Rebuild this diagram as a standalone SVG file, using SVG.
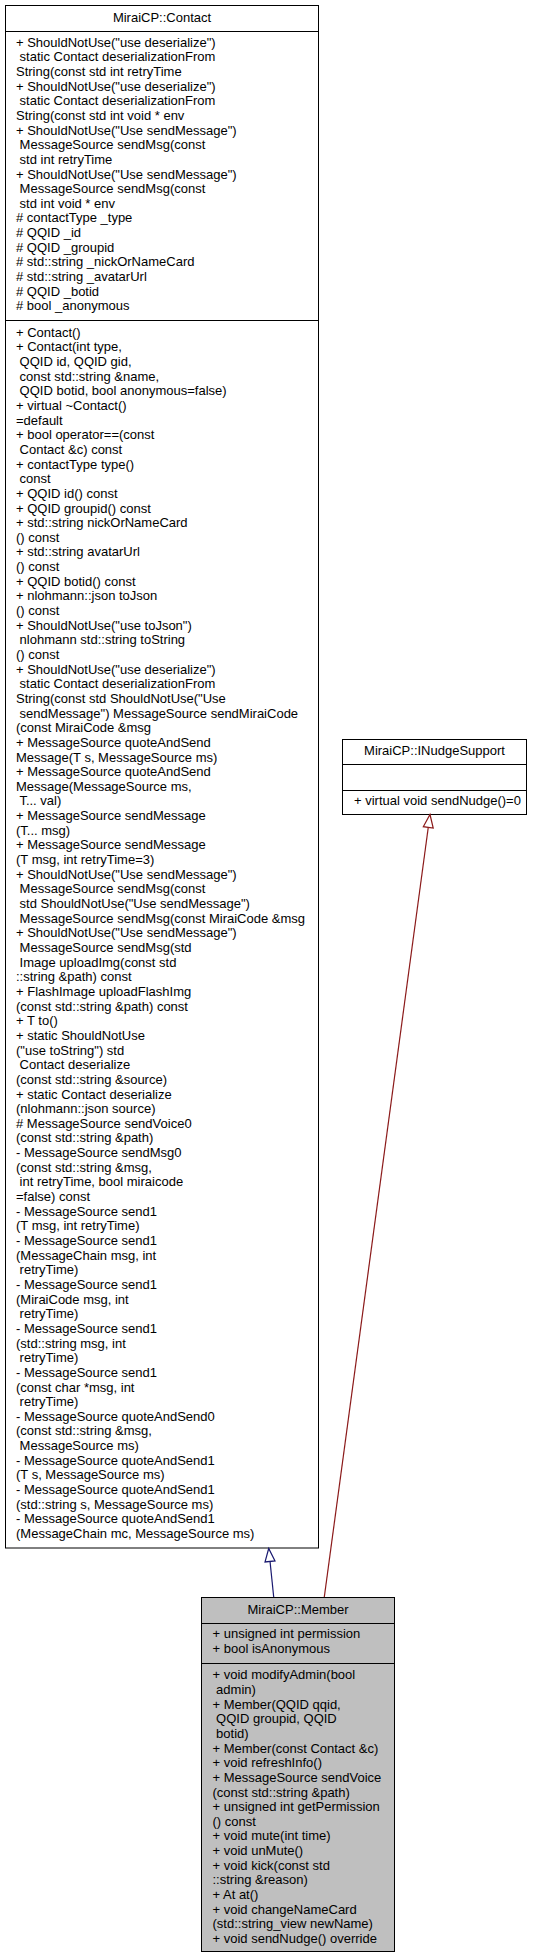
<svg xmlns="http://www.w3.org/2000/svg" width="533" height="1959" viewBox="0 0 533 1959" xml:space="preserve">
<style>
.t{font-family:"Liberation Sans",Arial,Helvetica,sans-serif;font-size:13px;fill:#000;white-space:pre}
.c{text-anchor:middle}
.box{stroke:#000;stroke-width:1}
.sep{stroke:#000;stroke-width:1}
.pub{fill:none;stroke:#191970;stroke-width:1.2}
.priv{fill:none;stroke:#8b1a1a;stroke-width:1.2}
</style>
<defs>
<marker id="triBlue" markerUnits="userSpaceOnUse" viewBox="0 0 14 11" refX="13.5" refY="5.5" markerWidth="14" markerHeight="11" orient="auto" overflow="visible">
<path d="M0.5,0.5 L13.5,5.5 L0.5,10.5 Z" fill="#fff" stroke="#191970" stroke-width="1.2"/>
</marker>
<marker id="triRed" markerUnits="userSpaceOnUse" viewBox="0 0 14 11" refX="13.5" refY="5.5" markerWidth="14" markerHeight="11" orient="auto" overflow="visible">
<path d="M0.5,0.5 L13.5,5.5 L0.5,10.5 Z" fill="#fff" stroke="#8b1a1a" stroke-width="1.2"/>
</marker>
</defs>
<rect x="0" y="0" width="533" height="1959" fill="#fff"/>

<g id="node-contact">
<rect class="box" x="5.5" y="5.5" width="313" height="1542.5" fill="#fff"/>
<line class="sep" x1="5.5" y1="31.5" x2="318.5" y2="31.5"/>
<line class="sep" x1="5.5" y1="320.5" x2="318.5" y2="320.5"/>
<text class="t c" x="162" y="22">MiraiCP::Contact</text>
<text class="t" x="16" y="46.7"><tspan x="16" y="46.7">+ ShouldNotUse("use deserialize")</tspan><tspan x="16" dy="14.65"> static Contact deserializationFrom</tspan><tspan x="16" dy="14.65">String(const std int retryTime</tspan><tspan x="16" dy="14.65">+ ShouldNotUse("use deserialize")</tspan><tspan x="16" dy="14.65"> static Contact deserializationFrom</tspan><tspan x="16" dy="14.65">String(const std int void * env</tspan><tspan x="16" dy="14.65">+ ShouldNotUse("Use sendMessage")</tspan><tspan x="16" dy="14.65"> MessageSource sendMsg(const</tspan><tspan x="16" dy="14.65"> std int retryTime</tspan><tspan x="16" dy="14.65">+ ShouldNotUse("Use sendMessage")</tspan><tspan x="16" dy="14.65"> MessageSource sendMsg(const</tspan><tspan x="16" dy="14.65"> std int void * env</tspan><tspan x="16" dy="14.65"># contactType _type</tspan><tspan x="16" dy="14.65"># QQID _id</tspan><tspan x="16" dy="14.65"># QQID _groupid</tspan><tspan x="16" dy="14.65"># std::string _nickOrNameCard</tspan><tspan x="16" dy="14.65"># std::string _avatarUrl</tspan><tspan x="16" dy="14.65"># QQID _botid</tspan><tspan x="16" dy="14.65"># bool _anonymous</tspan></text>
<text class="t" x="16" y="336.7"><tspan x="16" y="336.7">+ Contact()</tspan><tspan x="16" dy="14.65">+ Contact(int type,</tspan><tspan x="16" dy="14.65"> QQID id, QQID gid,</tspan><tspan x="16" dy="14.65"> const std::string &amp;name,</tspan><tspan x="16" dy="14.65"> QQID botid, bool anonymous=false)</tspan><tspan x="16" dy="14.65">+ virtual ~Contact()</tspan><tspan x="16" dy="14.65">=default</tspan><tspan x="16" dy="14.65">+ bool operator==(const</tspan><tspan x="16" dy="14.65"> Contact &amp;c) const</tspan><tspan x="16" dy="14.65">+ contactType type()</tspan><tspan x="16" dy="14.65"> const</tspan><tspan x="16" dy="14.65">+ QQID id() const</tspan><tspan x="16" dy="14.65">+ QQID groupid() const</tspan><tspan x="16" dy="14.65">+ std::string nickOrNameCard</tspan><tspan x="16" dy="14.65">() const</tspan><tspan x="16" dy="14.65">+ std::string avatarUrl</tspan><tspan x="16" dy="14.65">() const</tspan><tspan x="16" dy="14.65">+ QQID botid() const</tspan><tspan x="16" dy="14.65">+ nlohmann::json toJson</tspan><tspan x="16" dy="14.65">() const</tspan><tspan x="16" dy="14.65">+ ShouldNotUse("use toJson")</tspan><tspan x="16" dy="14.65"> nlohmann std::string toString</tspan><tspan x="16" dy="14.65">() const</tspan><tspan x="16" dy="14.65">+ ShouldNotUse("use deserialize")</tspan><tspan x="16" dy="14.65"> static Contact deserializationFrom</tspan><tspan x="16" dy="14.65">String(const std ShouldNotUse("Use</tspan><tspan x="16" dy="14.65"> sendMessage") MessageSource sendMiraiCode</tspan><tspan x="16" dy="14.65">(const MiraiCode &amp;msg</tspan><tspan x="16" dy="14.65">+ MessageSource quoteAndSend</tspan><tspan x="16" dy="14.65">Message(T s, MessageSource ms)</tspan><tspan x="16" dy="14.65">+ MessageSource quoteAndSend</tspan><tspan x="16" dy="14.65">Message(MessageSource ms,</tspan><tspan x="16" dy="14.65"> T... val)</tspan><tspan x="16" dy="14.65">+ MessageSource sendMessage</tspan><tspan x="16" dy="14.65">(T... msg)</tspan><tspan x="16" dy="14.65">+ MessageSource sendMessage</tspan><tspan x="16" dy="14.65">(T msg, int retryTime=3)</tspan><tspan x="16" dy="14.65">+ ShouldNotUse("Use sendMessage")</tspan><tspan x="16" dy="14.65"> MessageSource sendMsg(const</tspan><tspan x="16" dy="14.65"> std ShouldNotUse("Use sendMessage")</tspan><tspan x="16" dy="14.65"> MessageSource sendMsg(const MiraiCode &amp;msg</tspan><tspan x="16" dy="14.65">+ ShouldNotUse("Use sendMessage")</tspan><tspan x="16" dy="14.65"> MessageSource sendMsg(std</tspan><tspan x="16" dy="14.65"> Image uploadImg(const std</tspan><tspan x="16" dy="14.65">::string &amp;path) const</tspan><tspan x="16" dy="14.65">+ FlashImage uploadFlashImg</tspan><tspan x="16" dy="14.65">(const std::string &amp;path) const</tspan><tspan x="16" dy="14.65">+ T to()</tspan><tspan x="16" dy="14.65">+ static ShouldNotUse</tspan><tspan x="16" dy="14.65">("use toString") std</tspan><tspan x="16" dy="14.65"> Contact deserialize</tspan><tspan x="16" dy="14.65">(const std::string &amp;source)</tspan><tspan x="16" dy="14.65">+ static Contact deserialize</tspan><tspan x="16" dy="14.65">(nlohmann::json source)</tspan><tspan x="16" dy="14.65"># MessageSource sendVoice0</tspan><tspan x="16" dy="14.65">(const std::string &amp;path)</tspan><tspan x="16" dy="14.65">- MessageSource sendMsg0</tspan><tspan x="16" dy="14.65">(const std::string &amp;msg,</tspan><tspan x="16" dy="14.65"> int retryTime, bool miraicode</tspan><tspan x="16" dy="14.65">=false) const</tspan><tspan x="16" dy="14.65">- MessageSource send1</tspan><tspan x="16" dy="14.65">(T msg, int retryTime)</tspan><tspan x="16" dy="14.65">- MessageSource send1</tspan><tspan x="16" dy="14.65">(MessageChain msg, int</tspan><tspan x="16" dy="14.65"> retryTime)</tspan><tspan x="16" dy="14.65">- MessageSource send1</tspan><tspan x="16" dy="14.65">(MiraiCode msg, int</tspan><tspan x="16" dy="14.65"> retryTime)</tspan><tspan x="16" dy="14.65">- MessageSource send1</tspan><tspan x="16" dy="14.65">(std::string msg, int</tspan><tspan x="16" dy="14.65"> retryTime)</tspan><tspan x="16" dy="14.65">- MessageSource send1</tspan><tspan x="16" dy="14.65">(const char *msg, int</tspan><tspan x="16" dy="14.65"> retryTime)</tspan><tspan x="16" dy="14.65">- MessageSource quoteAndSend0</tspan><tspan x="16" dy="14.65">(const std::string &amp;msg,</tspan><tspan x="16" dy="14.65"> MessageSource ms)</tspan><tspan x="16" dy="14.65">- MessageSource quoteAndSend1</tspan><tspan x="16" dy="14.65">(T s, MessageSource ms)</tspan><tspan x="16" dy="14.65">- MessageSource quoteAndSend1</tspan><tspan x="16" dy="14.65">(std::string s, MessageSource ms)</tspan><tspan x="16" dy="14.65">- MessageSource quoteAndSend1</tspan><tspan x="16" dy="14.65">(MessageChain mc, MessageSource ms)</tspan></text>
</g>

<g id="node-inudgesupport">
<rect class="box" x="342.5" y="739.5" width="184" height="75" fill="#fff"/>
<line class="sep" x1="342.5" y1="764.5" x2="526.5" y2="764.5"/>
<line class="sep" x1="342.5" y1="790.5" x2="526.5" y2="790.5"/>
<text class="t c" x="434.5" y="755">MiraiCP::INudgeSupport</text>
<text class="t" x="354" y="805">+ virtual void sendNudge()=0</text>
</g>

<g id="node-member">
<rect class="box" x="201.5" y="1597.5" width="193" height="354" fill="#bfbfbf"/>
<line class="sep" x1="201.5" y1="1623.5" x2="394.5" y2="1623.5"/>
<line class="sep" x1="201.5" y1="1663.5" x2="394.5" y2="1663.5"/>
<text class="t c" x="298" y="1614">MiraiCP::Member</text>
<text class="t" x="212.5" y="1638.3"><tspan x="212.5" y="1638.3">+ unsigned int permission</tspan><tspan x="212.5" dy="14.65">+ bool isAnonymous</tspan></text>
<text class="t" x="212.5" y="1679.3"><tspan x="212.5" y="1679.3">+ void modifyAdmin(bool</tspan><tspan x="212.5" dy="14.65"> admin)</tspan><tspan x="212.5" dy="14.65">+ Member(QQID qqid,</tspan><tspan x="212.5" dy="14.65"> QQID groupid, QQID</tspan><tspan x="212.5" dy="14.65"> botid)</tspan><tspan x="212.5" dy="14.65">+ Member(const Contact &amp;c)</tspan><tspan x="212.5" dy="14.65">+ void refreshInfo()</tspan><tspan x="212.5" dy="14.65">+ MessageSource sendVoice</tspan><tspan x="212.5" dy="14.65">(const std::string &amp;path)</tspan><tspan x="212.5" dy="14.65">+ unsigned int getPermission</tspan><tspan x="212.5" dy="14.65">() const</tspan><tspan x="212.5" dy="14.65">+ void mute(int time)</tspan><tspan x="212.5" dy="14.65">+ void unMute()</tspan><tspan x="212.5" dy="14.65">+ void kick(const std</tspan><tspan x="212.5" dy="14.65">::string &amp;reason)</tspan><tspan x="212.5" dy="14.65">+ At at()</tspan><tspan x="212.5" dy="14.65">+ void changeNameCard</tspan><tspan x="212.5" dy="14.65">(std::string_view newName)</tspan><tspan x="212.5" dy="14.65">+ void sendNudge() override</tspan></text>
</g>

<g id="connectors">
<path id="edge-member-contact" class="pub" d="M273.7,1597 L268.7,1548.5" marker-end="url(#triBlue)"/>
<path id="edge-member-inudgesupport" class="priv" d="M324.3,1597 L430,814.5" marker-end="url(#triRed)"/>
</g>
</svg>
